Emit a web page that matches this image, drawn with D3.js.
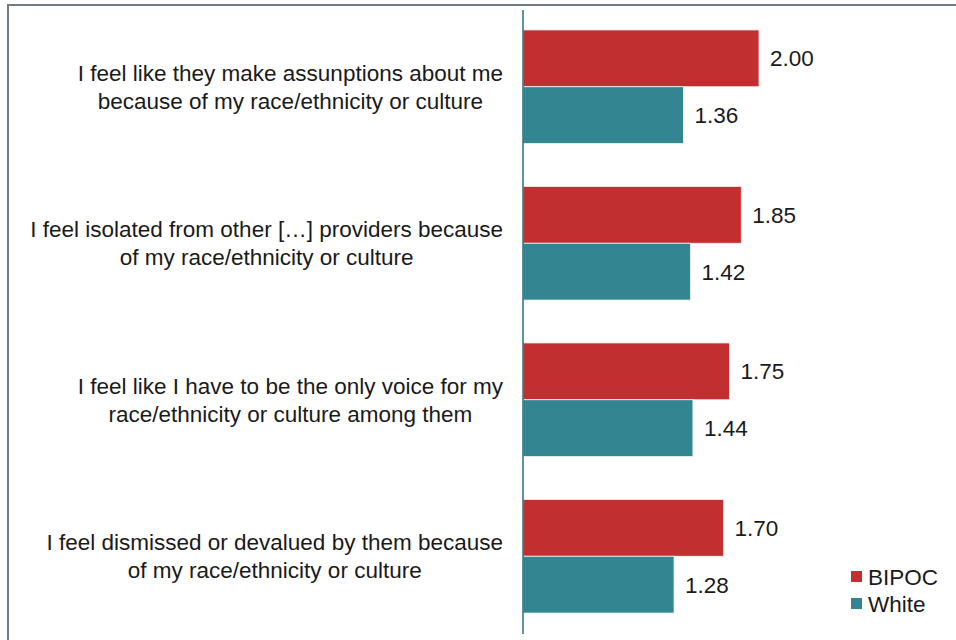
<!DOCTYPE html>
<html>
<head>
<meta charset="utf-8">
<title>Experiences by race/ethnicity</title>
<script src="https://d3js.org/d3.v7.min.js"></script>
<style>
  body { margin: 0; background: #fff; }
  svg text { font-family: "Liberation Sans", Arial, Helvetica, sans-serif; fill: #1a1a1a; }
</style>
</head>
<body>
<div id="container"></div>
<script>
//------------------------DATA-------------------------//
var categories = [
  ["I feel like they make assunptions about me", "because of my race/ethnicity or culture"],
  ["I feel isolated from other [\u2026] providers because", "of my race/ethnicity or culture"],
  ["I feel like I have to be the only voice for my", "race/ethnicity or culture among them"],
  ["I feel dismissed or devalued by them because", "of my race/ethnicity or culture"]
];
var seriesNames = ["BIPOC", "White"];
var bipocValues = [2.00, 1.85, 1.75, 1.70];
var whiteValues = [1.36, 1.42, 1.44, 1.28];
var colors = ["#c12f30", "#338592"];

//------------------------SVG-------------------------//
var width = 956, height = 640;
var fontSize = "22.5px";
var svg = d3.select("#container").append("svg")
  .attr("width", width)
  .attr("height", height);

// frame (top and left edges)
svg.append("line")
  .attr("x1", 8).attr("x2", width).attr("y1", 5).attr("y2", 5)
  .attr("stroke", "#6d7c89").attr("stroke-width", 2);
svg.append("line")
  .attr("x1", 8).attr("x2", 8).attr("y1", 4).attr("y2", height)
  .attr("stroke", "#6d7c89").attr("stroke-width", 2);

//------------------------SCALES-------------------------//
var ids = d3.range(categories.length);
var yScale = d3.scaleBand()
  .domain(ids)
  .range([8.5, 634.5])
  .paddingInner(0.274)
  .paddingOuter(0.137);

var ySub = d3.scaleBand()
  .domain(seriesNames)
  .range([0, yScale.bandwidth()]);

var xScale = d3.scaleLinear()
  .domain([0, 2])
  .range([523, 759]);

var rows = ids.map(function(i) {
  return {
    id: i,
    lines: categories[i],
    values: [
      { name: "BIPOC", value: bipocValues[i] },
      { name: "White", value: whiteValues[i] }
    ]
  };
});

//------------------------BARS-------------------------//
var groups = svg.selectAll("g.row")
  .data(rows)
  .enter()
  .append("g")
  .attr("class", "row")
  .attr("transform", function(d) { return "translate(0," + yScale(d.id) + ")"; });

groups.selectAll("rect")
  .data(function(d) { return d.values; })
  .enter()
  .append("rect")
  .attr("x", xScale(0))
  .attr("y", function(d) { return ySub(d.name); })
  .attr("width", function(d) { return xScale(d.value) - xScale(0); })
  .attr("height", ySub.bandwidth())
  .attr("fill", function(d) { return colors[seriesNames.indexOf(d.name)]; })
  .attr("stroke", "#f2f4f5")
  .attr("stroke-width", 0.8);

groups.selectAll("text.value")
  .data(function(d) { return d.values; })
  .enter()
  .append("text")
  .attr("class", "value")
  .attr("x", function(d) { return xScale(d.value) + 11; })
  .attr("y", function(d) { return ySub(d.name) + ySub.bandwidth() / 2; })
  .attr("dy", "0.35em")
  .style("font-size", fontSize)
  .text(function(d) { return d3.format(".2f")(d.value); });

//------------------------CATEGORY LABELS-------------------------//
var labelRight = 503;
groups.each(function(d) {
  var g = d3.select(this);
  var t = g.append("text")
    .attr("text-anchor", "middle")
    .style("font-size", fontSize);
  d.lines.forEach(function(line, j) {
    t.append("tspan")
      .attr("y", yScale.bandwidth() / 2 + (j - (d.lines.length - 1) / 2) * 28)
      .attr("dy", "0.35em")
      .text(line);
  });
  var maxW = d3.max(t.selectAll("tspan").nodes(), function(n) { return n.getComputedTextLength(); });
  t.selectAll("tspan").attr("x", labelRight - maxW / 2);
});

//------------------------AXIS-------------------------//
svg.append("line")
  .attr("x1", xScale(0)).attr("x2", xScale(0))
  .attr("y1", 10).attr("y2", 634)
  .attr("stroke", "#2e6e78").attr("stroke-width", 1.5);

//------------------------LEGEND-------------------------//
var legend = svg.append("g")
  .attr("transform", "translate(851,571)");
var items = legend.selectAll("g")
  .data(seriesNames)
  .enter()
  .append("g")
  .attr("transform", function(d, i) { return "translate(0," + i * 27 + ")"; });
items.append("rect")
  .attr("width", 11).attr("height", 11)
  .attr("fill", function(d, i) { return colors[i]; });
items.append("text")
  .attr("x", 17)
  .attr("y", 6)
  .attr("dy", "0.35em")
  .style("font-size", fontSize)
  .text(function(d) { return d; });
</script>
</body>
</html>
